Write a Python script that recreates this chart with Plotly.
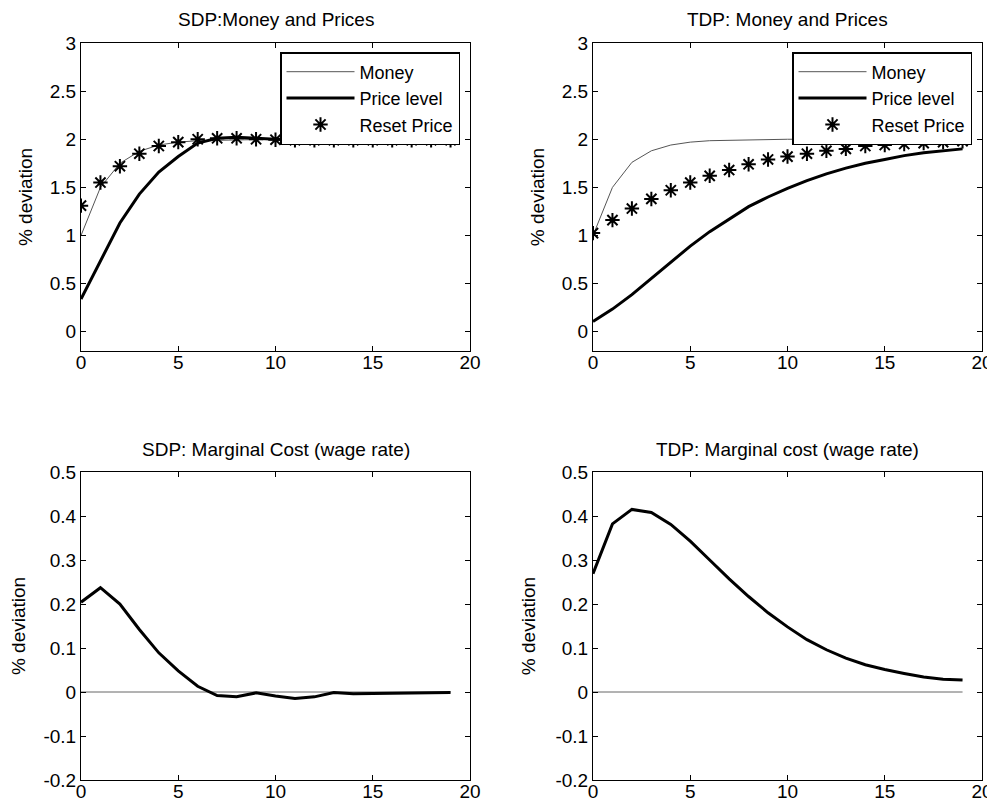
import plotly.graph_objects as go

t = list(range(20))

# SDP: Money and Prices
sdp_money = [1.0, 1.5, 1.75, 1.875, 1.94, 1.97, 1.985, 1.99, 1.996, 1.998, 2.0, 2.0, 2.0, 2.0, 2.0, 2.0, 2.0, 2.0, 2.0, 2.0]
sdp_price = [0.34, 0.74, 1.13, 1.43, 1.66, 1.82, 1.96, 2.01, 2.02, 2.01, 2.0, 2.0, 2.0, 2.0, 2.0, 2.0, 2.0, 2.0, 2.0, 2.0]
sdp_reset = [1.31, 1.55, 1.72, 1.85, 1.93, 1.97, 2.0, 2.01, 2.01, 2.0, 1.995, 1.99, 1.99, 1.99, 1.99, 1.99, 1.99, 1.99, 1.99, 1.99]

# TDP: Money and Prices
tdp_money = [1.0, 1.5, 1.76, 1.88, 1.94, 1.97, 1.985, 1.99, 1.995, 1.998, 2.0, 2.0, 2.0, 2.0, 2.0, 2.0, 2.0, 2.0, 2.0, 2.0]
tdp_price = [0.107, 0.235, 0.385, 0.55, 0.72, 0.89, 1.04, 1.17, 1.30, 1.40, 1.49, 1.57, 1.64, 1.70, 1.75, 1.79, 1.83, 1.86, 1.88, 1.90]
tdp_reset = [1.025, 1.16, 1.28, 1.38, 1.47, 1.55, 1.62, 1.68, 1.74, 1.79, 1.82, 1.85, 1.88, 1.90, 1.93, 1.94, 1.95, 1.96, 1.97, 1.98]

# Marginal cost (wage rate)
sdp_mc = [0.204, 0.237, 0.20, 0.142, 0.089, 0.048, 0.013, -0.008, -0.011, -0.002, -0.009, -0.015, -0.011, -0.001, -0.004, -0.004, -0.003, -0.002, -0.001, -0.001]
tdp_mc = [0.269, 0.382, 0.415, 0.408, 0.381, 0.343, 0.30, 0.257, 0.217, 0.18, 0.148, 0.119, 0.096, 0.077, 0.062, 0.051, 0.042, 0.034, 0.029, 0.027]
zero_line = [0.0] * 20

titles = ["SDP:Money and Prices", "TDP: Money and Prices",
          "SDP: Marginal Cost (wage rate)", "TDP: Marginal cost (wage rate)"]
series_names = ["Money", "Price level", "Reset Price"]
y_label = "% deviation"

x_ticks = [0, 5, 10, 15, 20]
top_yticks = [0, 0.5, 1, 1.5, 2, 2.5, 3]
top_yticktext = ["0", "0.5", "1", "1.5", "2", "2.5", "3"]
bot_yticks = [-0.2, -0.1, 0, 0.1, 0.2, 0.3, 0.4, 0.5]
bot_yticktext = ["-0.2", "-0.1", "0", "0.1", "0.2", "0.3", "0.4", "0.5"]

FONT = "Liberation Sans, Arial, Helvetica, sans-serif"
FS = 19
OFF = 8  # page body margin
W, H = 995 - OFF, 808 - OFF

fig = go.Figure()

def add_money_panel(xa, ya, legend, money, price, reset):
    fig.add_trace(go.Scatter(x=t, y=money, mode="lines", name=series_names[0],
                             line=dict(color="#555555", width=1), xaxis=xa, yaxis=ya, legend=legend))
    fig.add_trace(go.Scatter(x=t, y=price, mode="lines", name=series_names[1],
                             line=dict(color="black", width=3), xaxis=xa, yaxis=ya, legend=legend))
    fig.add_trace(go.Scatter(x=t, y=reset, mode="markers", name=series_names[2],
                             marker=dict(symbol="asterisk-open", size=12, color="black",
                                         line=dict(color="black", width=2)),
                             xaxis=xa, yaxis=ya, legend=legend))

def add_mc_panel(xa, ya, mc):
    fig.add_trace(go.Scatter(x=t, y=zero_line, mode="lines", showlegend=False,
                             line=dict(color="#666666", width=1), xaxis=xa, yaxis=ya))
    fig.add_trace(go.Scatter(x=t, y=mc, mode="lines", showlegend=False,
                             line=dict(color="black", width=3), xaxis=xa, yaxis=ya))

add_money_panel("x", "y", "legend", sdp_money, sdp_price, sdp_reset)
add_money_panel("x2", "y2", "legend2", tdp_money, tdp_price, tdp_reset)
add_mc_panel("x3", "y3", sdp_mc)
add_mc_panel("x4", "y4", tdp_mc)

# pixel geometry (page pixels)
left_x = (81, 470)
right_x = (593, 982)
top_y = (43, 351)
bot_y = (472, 780)

def px_x(v):
    return (v - OFF) / W

def px_y(v):
    return 1 - (v - OFF) / H

def xd(p):
    return [px_x(p[0]), px_x(p[1])]

def yd(p):
    return [px_y(p[1]), px_y(p[0])]

axis_common = dict(showline=True, linecolor="black", linewidth=1, mirror="ticks",
                   ticks="inside", ticklen=5, tickcolor="black", showgrid=False,
                   zeroline=False, automargin=False,
                   tickfont=dict(size=FS, color="black", family=FONT))

panels = [
    ("xaxis", "yaxis", "x", "y", left_x, top_y, [-0.2, 3], top_yticks, top_yticktext, 12),
    ("xaxis2", "yaxis2", "x2", "y2", right_x, top_y, [-0.2, 3], top_yticks, top_yticktext, 12),
    ("xaxis3", "yaxis3", "x3", "y3", left_x, bot_y, [-0.2, 0.5], bot_yticks, bot_yticktext, 14),
    ("xaxis4", "yaxis4", "x4", "y4", right_x, bot_y, [-0.2, 0.5], bot_yticks, bot_yticktext, 14),
]

layout_axes = {}
for i, (xk, yk, xr, yr, px, py, yrange, yt, ytt, so) in enumerate(panels):
    layout_axes[xk] = dict(axis_common, domain=xd(px), anchor=yr, range=[0, 20],
                           tickvals=x_ticks, ticktext=[str(v) for v in x_ticks],
                           ticklabelstandoff=-6)
    layout_axes[yk] = dict(axis_common, domain=yd(py), anchor=xr, range=yrange,
                           tickvals=yt, ticktext=ytt,
                           title=dict(text=y_label, font=dict(size=FS, color="black", family=FONT),
                                      standoff=so))

fig.update_layout(**layout_axes)

annotations = []
title_pos = [(left_x, 19), (right_x, 19), (left_x, 449), (right_x, 449)]
for title, (px, ty) in zip(titles, title_pos):
    annotations.append(dict(text=title, x=px_x((px[0] + px[1]) / 2), y=px_y(ty),
                            xref="paper", yref="paper", xanchor="center", yanchor="middle",
                            showarrow=False, font=dict(size=FS, color="black", family=FONT)))

legend_common = dict(bgcolor="white", bordercolor="black", borderwidth=1.5,
                     font=dict(size=18, color="black", family=FONT),
                     xanchor="right", yanchor="top", itemwidth=68, tracegroupgap=0)

fig.update_layout(
    template="none",
    width=W, height=H,
    margin=dict(l=0, r=0, t=0, b=0),
    paper_bgcolor="white", plot_bgcolor="white",
    font=dict(family=FONT, color="black"),
    annotations=annotations,
    legend=dict(legend_common, x=px_x(460), y=px_y(52)),
    legend2=dict(legend_common, x=px_x(972), y=px_y(52)),
)

fig.write_html("out.html")
